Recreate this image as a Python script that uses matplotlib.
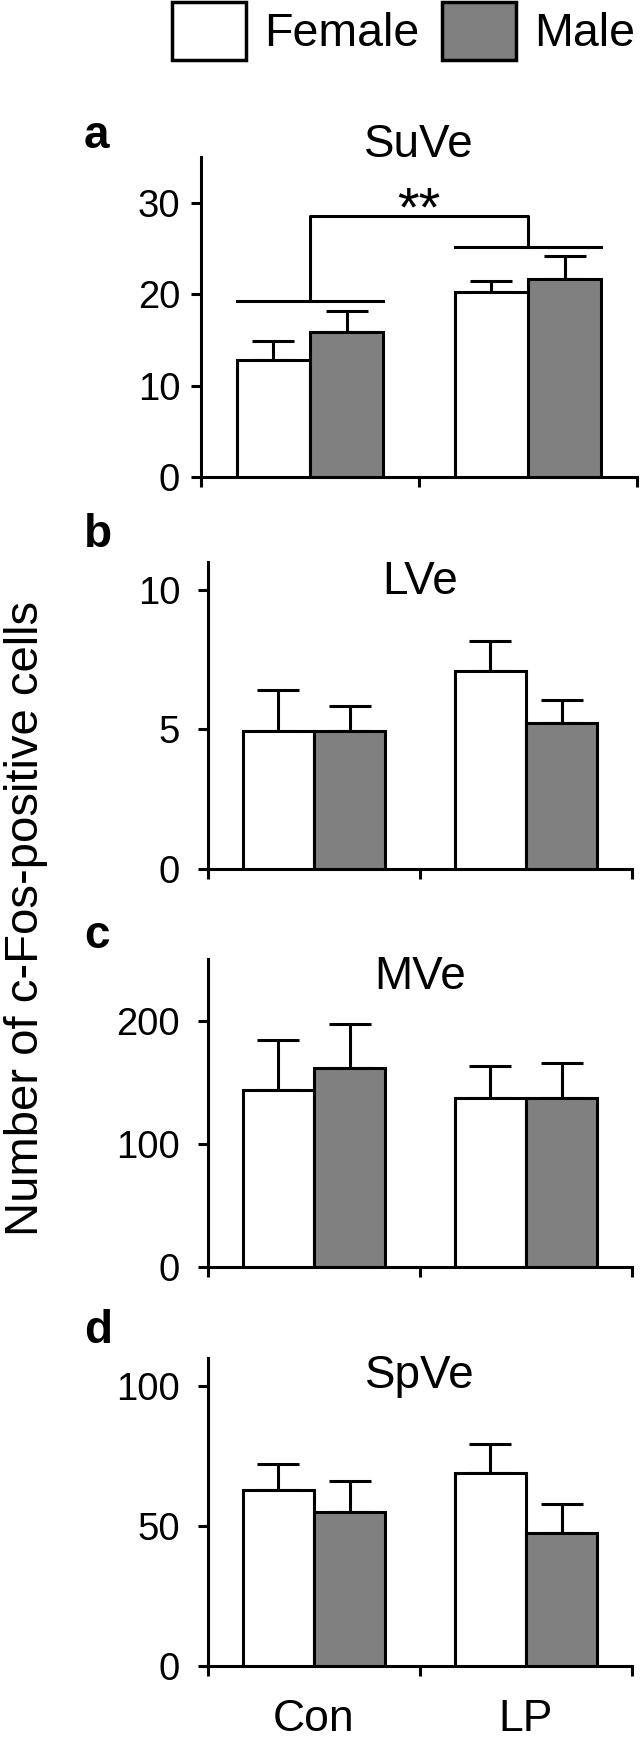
import matplotlib
matplotlib.use("Agg")
import matplotlib.pyplot as plt
from matplotlib.patches import Patch
import numpy as np

plt.rcParams['font.family'] = ['Liberation Sans', 'DejaVu Sans']

# ------------------------- data ------------------------- #
groups = ["Con", "LP"]
series = ["Female", "Male"]
regions = ["SuVe", "LVe", "MVe", "SpVe"]
letters = ["a", "b", "c", "d"]

suve_female = [12.8, 20.2]
suve_female_err = [2.05, 1.2]
suve_male = [15.9, 21.7]
suve_male_err = [2.3, 2.5]

lve_female = [4.94, 7.08]
lve_female_err = [1.49, 1.09]
lve_male = [4.94, 5.22]
lve_male_err = [0.91, 0.85]

mve_female = [143.7, 137.0]
mve_female_err = [40.8, 26.0]
mve_male = [161.6, 137.0]
mve_male_err = [35.4, 28.6]

spve_female = [63.0, 69.0]
spve_female_err = [9.2, 10.3]
spve_male = [55.0, 47.4]
spve_male_err = [11.0, 10.4]

ylims = [35, 11, 250, 110]
yticks = [[0, 10, 20, 30], [0, 5, 10], [0, 100, 200], [0, 50, 100]]

# significance bracket for panel a
sig_left_y, sig_right_y, sig_top_y = 19.3, 25.2, 28.6

# ------------------------- layout (pixels) ------------------------- #
W, H = 641, 1739
fig = plt.figure(figsize=(W / 100, H / 100), dpi=100)

def px_rect(x0, x1, y0, y1):
    return [x0 / W, 1 - y1 / H, (x1 - x0) / W, (y1 - y0) / H]

boxes = [(201, 637, 157, 477), (208, 632, 562, 869),
         (208, 632, 959, 1267), (208, 632, 1358, 1666)]
title_frac = [1.0375, 0.935, 0.94, 0.94]
letter_base = [148, 547, 948, 1343]
tick_pad = [8, 13, 13, 13]

data = [
    (suve_female, suve_female_err, suve_male, suve_male_err),
    (lve_female, lve_female_err, lve_male, lve_male_err),
    (mve_female, mve_female_err, mve_male, mve_male_err),
    (spve_female, spve_female_err, spve_male, spve_male_err),
]

LW = 2.2
bw = 0.335
x = np.arange(len(groups))
colors = ["white", "#808080"]

for i, (f, fe, m, me) in enumerate(data):
    ax = fig.add_axes(px_rect(*boxes[i]))
    for j, (vals, errs) in enumerate([(f, fe), (m, me)]):
        pos = x + (j - 0.5) * bw
        ax.bar(pos, vals, width=bw, color=colors[j], edgecolor="black",
               linewidth=LW, zorder=3)
        ax.errorbar(pos, vals, yerr=[np.zeros(len(vals)), errs], fmt="none",
                    ecolor="black", elinewidth=LW, capsize=15, capthick=LW,
                    zorder=2)
    ax.set_xlim(-0.5, 1.5)
    ax.set_ylim(0, ylims[i])
    ax.set_yticks(yticks[i])
    ax.set_xticks([-0.5, 0.5, 1.5])
    ax.set_xticklabels([])
    for s in ["top", "right"]:
        ax.spines[s].set_visible(False)
    for s in ["left", "bottom"]:
        ax.spines[s].set_linewidth(LW)
    ax.tick_params(axis="both", which="major", direction="out", length=7,
                   width=LW, labelsize=27.5)
    ax.tick_params(axis="y", pad=tick_pad[i])
    ax.text(0.5, title_frac[i], regions[i], transform=ax.transAxes,
            ha="center", va="center", fontsize=33)
    fig.text(84 / W, 1 - letter_base[i] / H, letters[i], fontsize=33,
             fontweight="bold", ha="left", va="baseline")
    if i == 3:
        ax.set_xticks(x, minor=True)
        ax.set_xticklabels(groups, minor=True)
        ax.tick_params(axis="x", which="minor", length=0, labelsize=32, pad=24)
    if i == 0:
        ax.plot([-bw, bw], [sig_left_y] * 2, color="black", lw=LW, zorder=4)
        ax.plot([1 - bw, 1 + bw], [sig_right_y] * 2, color="black", lw=LW, zorder=4)
        ax.plot([0, 0, 1, 1], [sig_left_y, sig_top_y, sig_top_y, sig_right_y],
                color="black", lw=LW, zorder=4)
        ax.text(0.5, sig_top_y + 0.5, "**", ha="center", va="center", fontsize=40)

fig.text(26 / W, 1 - 918 / H, "Number of c-Fos-positive cells", rotation=90,
         ha="center", va="center", fontsize=34)

handles = [Patch(facecolor=c, edgecolor="black", linewidth=2.5) for c in colors]
fig.legend(handles, series, loc="upper left", bbox_to_anchor=(172 / W, 1 - 2 / H),
           ncol=2, frameon=False, fontsize=33.5, handlelength=1.59,
           handleheight=1.53, handletextpad=0.38, columnspacing=0.5,
           borderpad=0, borderaxespad=0)

fig.savefig("out.png", dpi=100)
